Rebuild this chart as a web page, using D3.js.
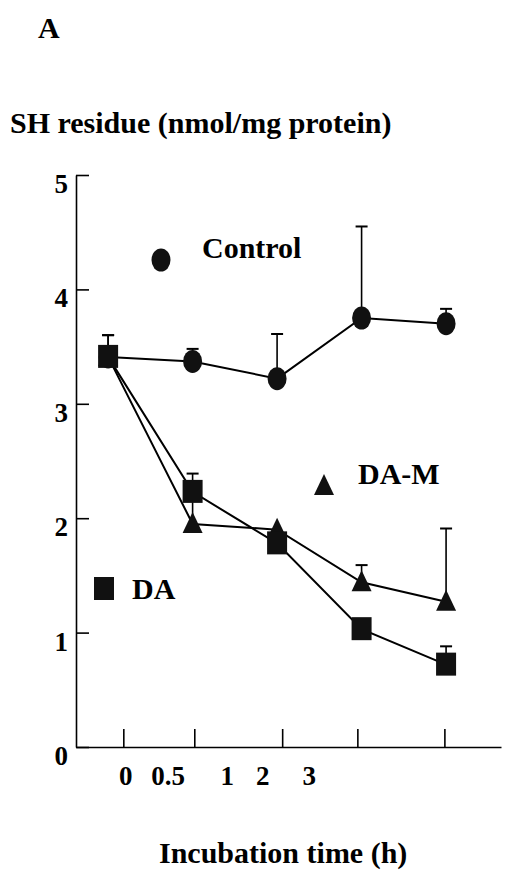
<!DOCTYPE html>
<html>
<head>
<meta charset="utf-8">
<script src="https://cdn.jsdelivr.net/npm/d3@7"></script>
<style>
  body { margin: 0; background: #fff; }
  svg text { font-family: "Liberation Serif", "Times New Roman", "DejaVu Serif", serif; font-weight: bold; fill: #000; }
</style>
</head>
<body>
<div id="chart"></div>
<script>
// time points (slots along x) and tick labels as printed
var times = ["0", "0.5", "1", "2", "3"];
var timeLabels = ["0", "0.5", "1", "2", "3"];
// where the printed labels and ticks sit, in slot units (they are offset in the original)
var labelSlots = [0.21, 0.71, 1.41, 1.83, 2.38];
var tickSlots = [0.18, 1.02, 2.06, 2.95, 3.98];
var yTicks = [0, 1, 2, 3, 4, 5];

// SH residue (nmol/mg protein): mean and top of error bar
var control = [3.41, 3.37, 3.22, 3.75, 3.70];
var controlErr = [3.60, 3.48, 3.61, 4.55, 3.83];
var daM = [3.41, 1.95, 1.90, 1.44, 1.27];
var daMErr = [3.41, 2.20, 1.90, 1.59, 1.91];
var da = [3.41, 2.23, 1.78, 1.03, 0.72];
var daErr = [3.60, 2.39, 1.78, 1.03, 0.88];

var svgWidth = 506, svgHeight = 871;
var svg = d3.select("#chart").append("svg")
    .attr("width", svgWidth)
    .attr("height", svgHeight);

// scales
var xScale = d3.scaleLinear().domain([-0.38, 4.65]).range([76, 501]);
var yScale = d3.scaleLinear().domain([0, 5]).range([747, 175]);

// titles
svg.append("text").attr("x", 38).attr("y", 38).style("font-size", "30px").text("A");
svg.append("text").attr("x", 10).attr("y", 133).style("font-size", "30px")
    .text("SH residue (nmol/mg protein)");
svg.append("text").attr("x", 159).attr("y", 863).style("font-size", "30px")
    .text("Incubation time (h)");

// axes
var yAxis = d3.axisLeft(yScale).tickValues(yTicks).tickSize(-13).tickSizeOuter(0)
    .tickPadding(8).tickFormat(d3.format("d"));
var yg = svg.append("g").attr("transform", "translate(76,0)").call(yAxis);
yg.selectAll("text").attr("dy", "0.65em").style("font-size", "27px");
yg.selectAll("path, line").attr("stroke", "#000").attr("stroke-width", 1.6);

var xAxis = d3.axisBottom(xScale).tickValues(tickSlots).tickSize(-18).tickSizeOuter(0).tickFormat("");
var xg = svg.append("g").attr("transform", "translate(0,747)").call(xAxis);
xg.selectAll("path, line").attr("stroke", "#000").attr("stroke-width", 1.6);

svg.selectAll(".xlab").data(timeLabels).enter().append("text")
    .attr("class", "xlab")
    .attr("x", (d, i) => xScale(labelSlots[i]))
    .attr("y", 785)
    .attr("text-anchor", "middle")
    .style("font-size", "27px")
    .text(d => d);

// series
var line = d3.line().x((d, i) => xScale(i)).y(d => yScale(d));

function drawSeries(vals, errs, marker) {
    var g = svg.append("g");
    // error bars
    vals.forEach(function(v, i) {
        if (errs[i] > v + 0.01) {
            g.append("line")
                .attr("x1", xScale(i)).attr("x2", xScale(i))
                .attr("y1", yScale(v)).attr("y2", yScale(errs[i]))
                .attr("stroke", "#000").attr("stroke-width", 1.6);
            g.append("line")
                .attr("x1", xScale(i) - 6).attr("x2", xScale(i) + 6)
                .attr("y1", yScale(errs[i])).attr("y2", yScale(errs[i]))
                .attr("stroke", "#000").attr("stroke-width", 2);
        }
    });
    g.append("path").attr("d", line(vals))
        .attr("fill", "none").attr("stroke", "#000").attr("stroke-width", 2);
    vals.forEach(function(v, i) {
        marker(g, xScale(i), yScale(v));
    });
}

function circleMark(g, cx, cy) {
    g.append("ellipse").attr("cx", cx).attr("cy", cy).attr("rx", 9.5).attr("ry", 11.5).attr("fill", "#111");
}
function squareMark(g, cx, cy) {
    g.append("rect").attr("x", cx - 10).attr("y", cy - 12).attr("width", 20).attr("height", 23).attr("fill", "#111");
}
function triMark(g, cx, cy) {
    g.append("path").attr("d", `M${cx},${cy - 12} L${cx + 10},${cy + 9} L${cx - 10},${cy + 9} Z`).attr("fill", "#111");
}

drawSeries(control, controlErr, circleMark);
drawSeries(daM, daMErr, triMark);
drawSeries(da, daErr, squareMark);

// legend labels placed inside the plot
var lg = svg.append("g");
circleMark(lg, 161, 260);
lg.append("text").attr("x", 202).attr("y", 258).style("font-size", "30px").text("Control");
triMark(lg, 324, 486);
lg.append("text").attr("x", 358).attr("y", 484).style("font-size", "30px").text("DA-M");
squareMark(lg, 104, 589);
lg.append("text").attr("x", 132).attr("y", 599).style("font-size", "30px").text("DA");
</script>
</body>
</html>
